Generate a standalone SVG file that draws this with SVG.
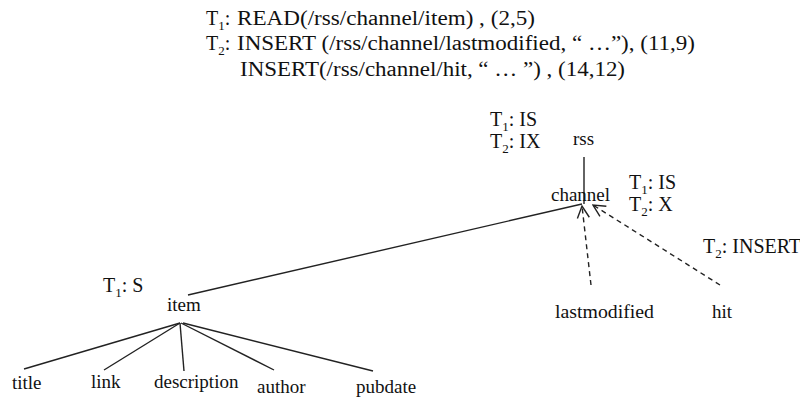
<svg xmlns="http://www.w3.org/2000/svg" width="800" height="401" viewBox="0 0 800 401">
<defs>
<style>
text{font-family:"Liberation Serif","Times New Roman",serif;fill:#111;}
.top{font-size:20px;}
.node{font-size:19px;}
.lbl{font-size:20px;}
.sub{font-size:13px;}
.edge{stroke:#222;stroke-width:1.4;fill:none;}
.dash{stroke-dasharray:5,4;}
</style>
<marker id="open" viewBox="0 0 14 14" refX="13" refY="7" markerWidth="14" markerHeight="14" markerUnits="userSpaceOnUse" orient="auto">
<polyline points="1,1 13,7 1,13" fill="none" stroke="#222" stroke-width="1.4"/>
</marker>
</defs>
<rect width="800" height="401" fill="#fff"/>

<g id="header">
<text class="top" x="206" y="25">T<tspan class="sub" dy="5">1</tspan><tspan dy="-5">:</tspan></text>
<text class="top" x="237" y="25" textLength="298" lengthAdjust="spacingAndGlyphs">READ(/rss/channel/item) , (2,5)</text>
<text class="top" x="206" y="50">T<tspan class="sub" dy="5">2</tspan><tspan dy="-5">:</tspan></text>
<text class="top" x="237" y="50" textLength="458" lengthAdjust="spacingAndGlyphs">INSERT (/rss/channel/lastmodified, “ …”), (11,9)</text>
<text class="top" x="240" y="76" textLength="385" lengthAdjust="spacingAndGlyphs">INSERT(/rss/channel/hit, “ … ”) , (14,12)</text>
</g>

<g id="connectors">
<line class="edge" x1="584" y1="157" x2="584" y2="204"/>
<line class="edge" x1="188" y1="295" x2="582" y2="204"/>
<line class="edge dash" x1="591" y1="285" x2="582" y2="206" marker-end="url(#open)"/>
<line class="edge dash" x1="720" y1="285" x2="593" y2="205" marker-end="url(#open)"/>
<line class="edge" x1="180" y1="323" x2="24" y2="369"/>
<line class="edge" x1="180" y1="323" x2="104" y2="370"/>
<line class="edge" x1="180" y1="323" x2="184" y2="371"/>
<line class="edge" x1="181" y1="323" x2="274" y2="370"/>
<line class="edge" x1="183" y1="323" x2="373" y2="371"/>
</g>

<g id="rss">
<text class="node" x="573" y="145">rss</text>
<text class="lbl" x="490" y="126">T<tspan class="sub" dy="5">1</tspan><tspan dy="-5">: IS</tspan></text>
<text class="lbl" x="490" y="148">T<tspan class="sub" dy="5">2</tspan><tspan dy="-5">: IX</tspan></text>
</g>

<g id="channel">
<text class="node" x="551" y="201">channel</text>
<text class="lbl" x="629" y="189">T<tspan class="sub" dy="5">1</tspan><tspan dy="-5">: IS</tspan></text>
<text class="lbl" x="629" y="211">T<tspan class="sub" dy="5">2</tspan><tspan dy="-5">: X</tspan></text>
</g>

<g id="item">
<text class="node" x="167" y="311">item</text>
<text class="lbl" x="103" y="292">T<tspan class="sub" dy="5">1</tspan><tspan dy="-5">: S</tspan></text>
</g>

<g id="lastmodified"><text class="node" x="555" y="318" textLength="99" lengthAdjust="spacingAndGlyphs">lastmodified</text></g>
<g id="hit">
<text class="node" x="712" y="318">hit</text>
<text class="lbl" x="703" y="253">T<tspan class="sub" dy="5">2</tspan><tspan dy="-5">: INSERT</tspan></text>
</g>

<g id="title"><text class="node" x="12" y="389">title</text></g>
<g id="link"><text class="node" x="91" y="388">link</text></g>
<g id="description"><text class="node" x="154" y="388">description</text></g>
<g id="author"><text class="node" x="257" y="393">author</text></g>
<g id="pubdate"><text class="node" x="356" y="393">pubdate</text></g>
</svg>
